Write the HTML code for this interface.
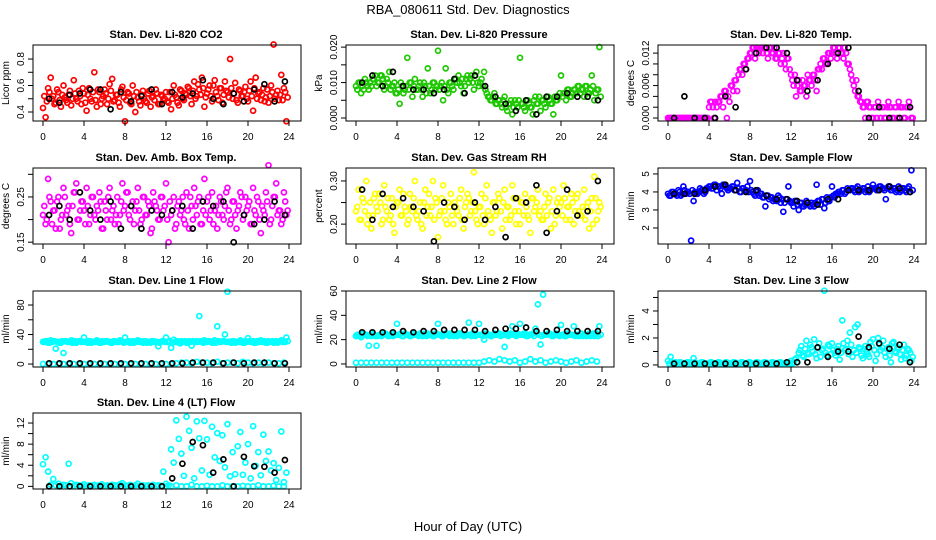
<!DOCTYPE html>
<html><head><meta charset="utf-8"><style>
body{margin:0;background:#fff;}
svg{display:block;font-family:"Liberation Sans",sans-serif;}
</style></head><body>
<svg id="c" width="936" height="540" viewBox="0 0 936 540">
<text x="468" y="14" text-anchor="middle" font-size="13">RBA_080611  Std. Dev. Diagnostics</text>
<text x="468" y="531" text-anchor="middle" font-size="13">Hour of Day (UTC)</text>
</svg>
<script>
const co2 = [0.43,0.36,0.58,0.66,0.52,0.47,0.55,0.44,0.60,0.49,0.53,0.45,0.64,0.50,0.56,0.46,0.54,0.41,0.58,0.48,0.70,0.44,0.55,0.50,0.57,0.46,0.61,0.65,0.49,0.53,0.44,0.59,0.33,0.55,0.47,0.60,0.40,0.51,0.45,0.56,0.48,0.54,0.44,0.52,0.57,0.46,0.53,0.49,0.55,0.47,0.42,0.60,0.51,0.45,0.56,0.49,0.53,0.58,0.46,0.63,0.52,0.57,0.66,0.44,0.54,0.60,0.48,0.64,0.52,0.58,0.47,0.63,0.55,0.80,0.50,0.62,0.47,0.56,0.52,0.59,0.48,0.63,0.41,0.66,0.54,0.49,0.58,0.51,0.47,0.60,0.91,0.53,0.49,0.68,0.58,0.33];
const co2B = [0.52,0.48,0.55,0.50,0.46,0.57,0.49,0.53,
0.51,0.47,0.56,0.50,0.54,0.48,0.52,0.58,
0.47,0.53,0.50,0.55,0.49,0.57,0.46,0.52,
0.54,0.50,0.56,0.48,0.53,0.47,0.57,0.51,
0.49,0.54,0.46,0.52,0.55,0.48,0.53,0.50,
0.47,0.56,0.51,0.49,0.54,0.46,0.52,0.50,
0.48,0.55,0.50,0.53,0.47,0.57,0.50,0.54,
0.59,0.52,0.56,0.50,0.61,0.53,0.58,0.51,
0.57,0.52,0.60,0.55,0.49,0.58,0.53,0.56,
0.51,0.58,0.54,0.49,0.57,0.52,0.55,0.50,
0.56,0.52,0.58,0.50,0.55,0.53,0.48,0.57,
0.52,0.55,0.50,0.56,0.53,0.49,0.55,0.51];
const co2Black = [0.50,0.47,0.53,0.54,0.57,0.57,0.42,0.55,0.48,0.52,0.57,0.46,0.55,0.51,0.54,0.64,0.50,0.46,0.54,0.48,0.57,0.61,0.48,0.63];
const press = [.009,.010,.007,.008,.010,.008,.009,.011,.009,.010,.012,.008,.011,.013,.009,.010,.007,.004,.009,.008,.017,.010,.006,.011,.008,.010,.006,.009,.014,.007,.010,.008,.019,.009,.005,.014,.007,.010,.008,.011,.012,.009,.007,.011,.010,.012,.008,.013,.009,.011,.013,.007,.006,.005,.007,.004,.005,.003,.006,.002,.004,.001,.005,.003,.017,.004,.002,.005,.003,.001,.006,.004,.002,.005,.003,.006,.004,.001,.005,.006,.012,.007,.005,.008,.006,.008,.007,.009,.008,.006,.009,.007,.012,.005,.008,.020];
const pressB = [.008,.010,.009,.011,.009,.010,.011,.012,
.010,.012,.011,.009,.010,.008,.009,.007,
.008,.010,.007,.009,.008,.010,.009,.008,
.009,.008,.010,.007,.009,.008,.010,.009,
.008,.010,.009,.008,.010,.009,.011,.010,
.010,.011,.009,.012,.011,.010,.012,.010,
.010,.009,.008,.006,.005,.006,.004,.005,
.004,.005,.003,.004,.005,.003,.004,.005,
.004,.003,.005,.004,.003,.005,.004,.006,
.005,.004,.006,.005,.004,.006,.005,.007,
.006,.007,.008,.006,.007,.008,.009,.007,
.008,.009,.007,.008,.009,.007,.008,.006];
const pressBlack = [.010,.012,.009,.013,.009,.008,.008,.007,.008,.011,.007,.012,.009,.006,.004,.002,.005,.001,.006,.006,.007,.006,.006,.005];
const temp = [0,0,0,0,0,0,0,0,0,0,0,0,0,0,0,0,.002,.003,0,.002,.003,.004,.005,0,.003,.006,.007,.005,.009,.008,.010,.011,.012,.013,.011,.013,.013,.012,.013,.011,.013,.012,.011,.012,.010,.012,.009,.011,.008,.006,.004,.007,.005,.006,.004,.007,.006,.008,.005,.009,.009,.011,.010,.012,.012,.013,.011,.013,.012,.013,.010,.009,.007,.005,.004,.003,.002,0,.003,.002,0,.002,.003,0,.002,0,.003,.002,0,.002,.003,.002,0,.002,.003,0];
const tempB = [0,0,0,0,0,0,0,0,
0,0,0,0,0,0,0,0,
.003,.002,.003,.003,.004,.002,.005,.004,
.006,.005,.007,.008,.009,.010,.009,.011,
.012,.013,.013,.012,.013,.013,.012,.013,
.012,.013,.011,.012,.011,.010,.011,.009,
.007,.008,.006,.005,.007,.006,.008,.007,
.008,.007,.009,.010,.011,.010,.012,.011,
.013,.012,.013,.012,.011,.012,.010,.008,
.006,.007,.004,.003,.002,.003,.002,0,
.002,0,.002,.002,0,.002,.002,0,
.002,0,.002,.002,0,.002,.002,0];
const tempBlack = [0,.004,0,0,0,.004,.002,.009,.012,.013,.013,.012,.007,.005,.007,.010,.012,.013,.005,0,.002,0,0,.002];
const amb = [.21,.19,.29,.24,.22,.18,.25,.20,.27,.21,.23,.17,.26,.28,.20,.24,.22,.27,.19,.25,.21,.23,.26,.18,.24,.20,.27,.22,.19,.25,.21,.28,.23,.26,.20,.24,.22,.27,.19,.25,.21,.24,.17,.26,.23,.20,.25,.22,.28,.15,.21,.25,.19,.24,.22,.20,.26,.18,.23,.27,.21,.25,.19,.29,.24,.20,.26,.22,.18,.25,.21,.23,.27,.19,.24,.21,.22,.26,.20,.25,.23,.19,.27,.21,.24,.17,.22,.26,.32,.20,.25,.28,.22,.19,.26,.21];
const ambB = [.23,.20,.25,.19,.22,.24,.18,.21,
.25,.22,.19,.23,.26,.20,.22,.24,
.19,.23,.21,.25,.20,.22,.24,.18,
.22,.25,.20,.23,.21,.19,.24,.22,
.26,.21,.23,.19,.24,.22,.20,.25,
.21,.23,.18,.24,.22,.20,.25,.23,
.20,.24,.22,.18,.23,.21,.25,.19,
.22,.25,.20,.23,.24,.19,.22,.21,
.25,.22,.19,.23,.21,.24,.20,.26,
.22,.20,.24,.18,.23,.25,.21,.22,
.24,.19,.22,.25,.20,.23,.21,.24,
.19,.23,.25,.21,.22,.20,.24,.22];
const ambBlack = [.21,.23,.20,.26,.22,.20,.24,.18,.23,.18,.22,.21,.22,.23,.18,.24,.23,.24,.15,.21,.19,.20,.24,.21];
const rh = [.23,.28,.21,.25,.30,.22,.19,.26,.24,.27,.20,.29,.23,.21,.26,.18,.25,.28,.22,.24,.20,.27,.23,.30,.21,.25,.19,.28,.24,.22,.30,.26,.17,.23,.29,.21,.25,.27,.20,.24,.22,.28,.19,.25,.26,.23,.32,.21,.24,.27,.20,.29,.22,.18,.25,.23,.26,.19,.28,.24,.21,.29,.23,.26,.20,.25,.27,.22,.18,.26,.24,.28,.23,.21,.27,.25,.19,.28,.22,.26,.25,.29,.21,.24,.27,.20,.26,.23,.22,.28,.24,.19,.26,.31,.21,.25];
const rhB = [.24,.21,.26,.23,.20,.25,.22,.27,
.23,.25,.21,.24,.26,.22,.20,.24,
.25,.22,.27,.23,.21,.24,.26,.22,
.23,.20,.25,.22,.27,.24,.21,.25,
.22,.26,.23,.20,.24,.22,.25,.23,
.26,.21,.24,.27,.22,.25,.23,.20,
.24,.22,.26,.23,.21,.25,.22,.27,
.23,.25,.21,.24,.22,.26,.20,.23,
.25,.22,.24,.21,.26,.23,.25,.22,
.21,.24,.22,.26,.23,.20,.25,.24,
.22,.26,.24,.21,.25,.23,.27,.22,
.24,.21,.25,.23,.20,.26,.23,.24];
const rhBlack = [.28,.21,.27,.24,.26,.24,.23,.16,.25,.24,.21,.25,.21,.24,.17,.26,.25,.29,.18,.23,.28,.22,.23,.30];
const flow = [3.9,3.8,4.0,3.9,4.1,3.8,4.3,3.9,4.0,1.3,3.5,3.9,4.0,4.1,3.9,4.2,4.3,4.2,4.4,4.1,4.3,3.9,4.4,4.2,4.2,4.3,4.1,4.5,4.0,4.2,4.1,4.3,4.6,4.0,3.8,4.1,3.9,3.7,3.2,3.8,3.7,3.5,3.6,3.8,3.4,2.9,3.6,4.3,3.4,3.2,3.5,3.0,3.4,3.2,3.5,3.3,3.4,3.2,4.4,3.5,3.6,3.1,3.7,3.5,4.3,3.7,3.9,4.0,4.1,3.9,4.2,4.1,4.2,4.0,4.3,4.1,4.2,4.0,4.3,4.1,4.4,4.2,4.1,4.3,4.2,3.6,4.3,4.1,4.2,4.0,4.3,4.1,4.2,4.0,4.3,5.2];
const flowB = [3.8,4.0,3.9,3.8,4.0,3.9,4.1,4.0,
3.9,4.1,4.0,3.9,4.2,4.1,4.0,4.2,
4.3,4.2,4.4,4.3,4.2,4.4,4.3,4.1,
4.2,4.3,4.1,4.2,4.0,4.2,4.1,4.0,
4.1,3.9,4.0,3.8,3.9,3.7,3.8,3.6,
3.7,3.6,3.5,3.7,3.6,3.4,3.6,3.5,
3.4,3.5,3.3,3.4,3.2,3.3,3.4,3.2,
3.3,3.4,3.5,3.3,3.6,3.4,3.5,3.7,
3.8,3.9,4.0,3.9,4.1,4.0,4.1,4.2,
4.1,4.2,4.0,4.1,4.2,4.1,4.0,4.2,
4.2,4.1,4.3,4.2,4.1,4.2,4.3,4.1,
4.2,4.1,4.0,4.2,4.1,4.2,4.0,4.1];
const flowBlack = [3.9,3.9,3.9,4.1,4.3,4.4,4.1,4.0,4.1,3.8,3.6,3.6,3.5,3.4,3.3,3.6,3.6,4.1,4.1,4.1,4.1,4.3,4.2,4.0];
const line1High = [30,31,29,32,31,21,30,29,15,31,30,32,30,29,31,30,36,30,31,29,30,32,29,31,30,31,30,29,31,30,32,30,36,30,29,31,30,32,31,29,31,30,29,31,30,24,30,31,36,30,22,33,30,29,31,30,29,31,25,30,31,65,30,32,30,31,29,32,51,30,31,40,98,30,31,29,30,32,29,31,35,30,31,29,30,32,30,29,31,30,29,31,30,32,30,36];
const line1B = [30,31,29,30,31,30,29,31,
31,30,30,29,31,30,31,30,
30,29,31,30,30,31,29,30,
31,30,29,31,30,30,31,29,
30,31,30,29,31,30,30,31,
29,30,31,30,30,29,31,30,
30,31,29,30,31,28,30,31,
29,30,31,30,30,31,29,30,
31,30,30,29,31,30,31,30,
30,29,31,30,30,31,29,30,
31,30,29,31,30,30,31,29,
30,31,30,29,31,30,30,31];
const line1Low = [0,0,0,0,0,0,0,0,0,0,0,0,0,0,0,0,0,0,0,0,0,0,0,0,0,0,1,2,2,1,3,2,2,1,3,1,2,2,1,3,2,1,2,1,2,1,1,2];
const line1Black = [1,1,1,1,1,1,1,1,1,1,1,1,1,1,2,2,2,1,2,1,2,2,1,1];
const line2High = [23,24,22,25,24,15,23,24,15,24,23,25,24,23,25,24,33,24,23,25,24,23,25,24,24,25,23,24,25,24,23,25,33,24,23,25,24,25,23,24,25,24,23,24,34,23,25,24,33,24,20,25,24,23,25,24,25,24,14,25,24,31,24,25,33,24,25,23,24,25,29,49,16,57,24,25,24,23,25,24,32,24,23,25,24,31,24,23,25,24,23,25,24,23,25,31];
const line2B = [24,23,25,24,23,24,25,23,
23,24,24,25,23,24,23,24,
24,25,23,24,24,23,25,24,
23,24,25,23,24,24,23,25,
24,23,24,25,23,24,24,23,
25,24,23,24,24,25,23,24,
24,23,25,24,23,24,24,25,
23,24,24,23,25,24,23,24,
24,25,23,24,24,23,25,24,
23,24,24,25,23,24,24,23,
24,23,25,24,24,23,24,25,
23,24,24,23,25,24,23,24];
const line2Low = [1,1,1,1,1,1,1,1,1,1,1,1,1,1,1,1,1,1,1,1,1,1,1,1,1,2,3,2,4,3,2,3,1,2,4,2,3,1,2,3,2,1,2,3,1,2,3,2];
const line2Black = [26,26,26,26,27,26,27,27,28,28,28,28,27,28,29,29,30,27,27,28,27,27,27,27];
const line3 = [0.3,0.6,0.1,0.2,0.1,0.2,0.1,0.1,0.2,0.1,0.5,0.1,0.1,0.2,0.1,0.1,0.1,0.2,0.1,0.1,0.2,0.1,0.1,0.2,0.1,0.1,0.2,0.1,0.1,0.2,0.1,0.1,0.2,0.1,0.1,0.2,0.1,0.1,0.2,0.1,0.1,0.2,0.1,0.1,0.2,0.1,0.1,0.2,0.3,0.2,0.5,0.9,1.4,0.6,1.8,0.8,1.3,1.9,0.5,1.6,1.1,5.5,0.7,1.4,1.6,0.9,1.2,0.4,3.3,1.1,1.8,2.4,0.6,2.8,3.0,1.2,0.5,1.4,0.8,1.7,1.9,0.3,2.0,1.1,1.8,0.6,1.3,0.2,1.7,0.9,1.2,0.4,1.5,0.7,1.1,0.3];
const line3B = [0.1,0.2,0.1,0.1,0.2,0.1,0.1,0.2,0.1,0.1,0.2,0.1,0.1,0.2,0.1,0.1,0.2,0.1,0.1,0.2,0.1,0.1,0.2,0.1,0.1,0.2,0.1,0.1,0.2,0.1,0.1,0.2,0.1,0.1,0.2,0.1,0.1,0.2,0.1,0.1,0.2,0.1,0.1,0.2,0.1,0.1,0.2,0.1,0.1,0.4,0.2,1.1,0.7,1.2,0.9,1.5,1.0,0.8,1.3,0.6,1.2,0.9,1.5,0.8,1.1,0.7,1.4,0.9,1.6,1.2,0.8,1.5,1.1,0.9,1.3,0.7,1.2,1.0,0.6,1.4,1.1,0.8,1.5,1.3,0.9,1.2,0.7,1.6,1.0,1.3,0.8,1.1,0.5,1.2,0.9,0.6];
const line3Black = [0.1,0.1,0.1,0.1,0.1,0.1,0.1,0.1,0.1,0.1,0.1,0.2,0.2,0.2,1.3,0.6,1.0,1.0,2.1,1.3,1.6,1.2,1.5,0.2];
const line4 = [4.2,5.5,2.8,0.3,1.4,0.2,0.5,0.1,0.3,0.2,4.3,0.6,0.1,0.3,0.2,0.1,0.4,0.1,0.2,0.1,0.3,0.1,0.2,0.4,0.1,0.2,0.1,0.3,0.2,0.1,0.4,0.6,0.2,0.1,0.3,0.1,0.2,0.5,0.1,0.2,0.1,0.2,0.1,0.3,0.1,0.2,0.1,2.8,0.5,0.2,7.0,4.5,12.5,9.0,6.2,2.0,13.2,10.5,7.3,1.5,12.3,9.1,3.0,12.4,8.9,2.2,11.3,5.5,10.1,4.8,9.7,3.6,11.8,1.9,6.5,2.3,7.6,10.3,2.2,4.5,8.0,1.5,11.4,3.9,6.5,2.1,9.8,4.8,6.6,3.0,4.4,1.2,3.5,10.4,0.8,2.6];
const line4Low = [0,0,0.2,0,0,0.3,0,0,0.1,0,0,0.2,0,0,0,0.1,0,0,0.2,0,0,0.1,0,0];
const line4Black = [0,0,0,0,0,0,0,0,0,0,0,0,1.5,4.3,8.4,7.8,2.6,5.1,0,5.6,3.8,3.7,2.6,5.0];
const xTicks = [0,4,8,12,16,20,24];

const NS='http://www.w3.org/2000/svg';
const svg=document.getElementById('c');
function mk(tag,attrs,parent){const e=document.createElementNS(NS,tag);for(const k in attrs)e.setAttribute(k,attrs[k]);(parent||svg).appendChild(e);return e;}

const colX=[43,356,668], rowY=[45,168,291,413], W=246, H=76;
const panels=[
 {name:'co2',title:'Stan. Dev. Li-820 CO2',yl:'Licor ppm',c:0,r:0,ymin:0.332,ymax:0.906,ticks:[0.4,0.5,0.6,0.7,0.8],labels:[0.4,0.6,0.8],fmt:1,col:'#ff0000',series:[[co2,0,0.25],[co2B,0.125,0.25],[co2Black,0.6,1,1]]},
 {name:'pressure',title:'Stan. Dev. Li-820 Pressure',yl:'kPa',c:1,r:0,ymin:-0.00085,ymax:0.0206,ticks:[0,0.005,0.01,0.015,0.02],labels:[0,0.01,0.02],fmt:3,col:'#1ec800',series:[[press,0,0.25],[pressB,0.125,0.25],[pressBlack,0.6,1,1]]},
 {name:'temp',title:'Stan. Dev. Li-820 Temp.',yl:'degrees C',c:2,r:0,ymin:-0.00055,ymax:0.0135,ticks:[0,0.002,0.004,0.006,0.008,0.01,0.012],labels:[0,0.006,0.012],fmt:3,col:'#ff00ff',series:[[temp,0,0.25],[tempB,0.125,0.25],[tempBlack,0.6,1,1]]},
 {name:'amb-box-temp',title:'Stan. Dev. Amb. Box Temp.',yl:'degrees C',c:0,r:1,ymin:0.146,ymax:0.314,ticks:[0.15,0.2,0.25,0.3],labels:[0.15,0.25],fmt:2,col:'#ff00ff',series:[[amb,0,0.25],[ambB,0.125,0.25],[ambBlack,0.6,1,1]]},
 {name:'gas-rh',title:'Stan. Dev. Gas Stream RH',yl:'percent',c:1,r:1,ymin:0.154,ymax:0.33,ticks:[0.2,0.25,0.3],labels:[0.2,0.3],fmt:2,col:'#ffff00',series:[[rh,0,0.25],[rhB,0.125,0.25],[rhBlack,0.6,1,1]]},
 {name:'sample-flow',title:'Stan. Dev. Sample Flow',yl:'ml/min',c:2,r:1,ymin:1.11,ymax:5.33,ticks:[2,3,4,5],labels:[2,3,4,5],fmt:0,col:'#0000ff',series:[[flow,0,0.25],[flowB,0.125,0.25],[flowBlack,0.6,1,1]]},
 {name:'line1-flow',title:'Stan. Dev. Line 1 Flow',yl:'ml/min',c:0,r:2,ymin:-4,ymax:99,ticks:[0,20,40,60,80],labels:[0,40,80],fmt:0,col:'#00ffff',series:[[line1High,0,0.25],[line1B,0.125,0.25],[line1Low,0,0.5],[line1Black,0.6,1,1]]},
 {name:'line2-flow',title:'Stan. Dev. Line 2 Flow',yl:'ml/min',c:1,r:2,ymin:-2.5,ymax:60,ticks:[0,20,40,60],labels:[0,20,40,60],fmt:0,col:'#00ffff',series:[[line2High,0,0.25],[line2B,0.125,0.25],[line2Low,0,0.5],[line2Black,0.6,1,1]]},
 {name:'line3-flow',title:'Stan. Dev. Line 3 Flow',yl:'ml/min',c:2,r:2,ymin:-0.15,ymax:5.48,ticks:[0,1,2,3,4,5],labels:[0,2,4],fmt:0,col:'#00ffff',series:[[line3,0,0.25],[line3B,0.125,0.25],[line3Black,0.6,1,1]]},
 {name:'line4-flow',title:'Stan. Dev. Line 4 (LT) Flow',yl:'ml/min',c:0,r:3,ymin:-0.5,ymax:13.9,ticks:[0,2,4,6,8,10,12],labels:[0,4,8,12],fmt:0,col:'#00ffff',series:[[line4,0,0.25],[line4Low,12,0.5],[line4Black,0.6,1,1]]}
];

panels.forEach(p=>{
  const x0=colX[p.c], top=rowY[p.r], bot=top+H;
  const xs=t=>x0+t*W/24;
  const ys=v=>bot-(v-p.ymin)/(p.ymax-p.ymin)*H;
  const g=mk('g',{});
  
  
  const tt=mk('text',{x:x0+W/2,y:top-7,'text-anchor':'middle','font-size':11,'font-weight':'bold'},g);
  tt.textContent=p.title;
  
  
  const pts=mk('g',{fill:'none','stroke-width':1.7},g);
  
  
  p.series.forEach(s=>{
    const [vals,t0,dt,black]=s;
    vals.forEach((v,i)=>{
      const cc=mk('circle',{cx:xs(t0+i*dt).toFixed(1),cy:ys(v).toFixed(1),r:2.5,stroke:black?'#000':p.col},pts);
      
      
    });
  });
  const box=mk('rect',{x:x0-10,y:top,width:W+22,height:H,fill:'none',stroke:'#000','stroke-width':1},g);
  
  
  const xa=mk('g',{},g);
  
  
  xTicks.forEach(t=>{
    mk('line',{x1:xs(t),x2:xs(t),y1:bot,y2:bot+5,stroke:'#000'},xa);
    const tx=mk('text',{x:xs(t),y:bot+19,'text-anchor':'middle','font-size':10},xa);
    tx.textContent=t;
  });
  const ya=mk('g',{},g);
  
  
  const yl=x0-10;
  p.ticks.forEach(v=>{ mk('line',{x1:yl,x2:yl-5,y1:ys(v),y2:ys(v),stroke:'#000'},ya); });
  p.labels.forEach(v=>{
    const lx=yl-9, ly=ys(v);
    const tx=mk('text',{x:lx,y:ly,'text-anchor':'middle','font-size':10,transform:`rotate(-90 ${lx} ${ly})`},ya);
    tx.textContent=v.toFixed(p.fmt);
  });
  const yt=mk('text',{x:yl-24,y:top+H/2,'text-anchor':'middle','font-size':10,transform:`rotate(-90 ${yl-24} ${top+H/2})`},ya);
  yt.textContent=p.yl;
  
  
});
</script>
</body></html>
